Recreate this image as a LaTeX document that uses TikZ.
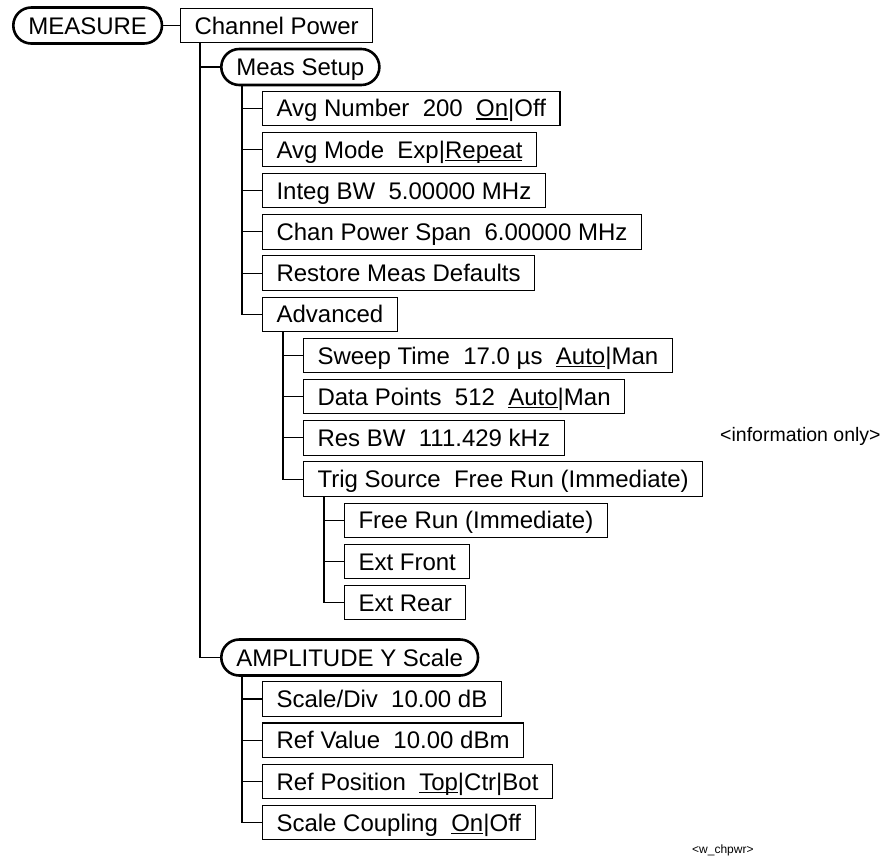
\documentclass[tikz,border=0pt]{standalone}
\usepackage{fontspec}
\setmainfont{Liberation Sans}
\usetikzlibrary{calc}
\newsavebox\ulbox
\newcommand\myul[1]{\sbox\ulbox{#1}\rlap{\rule[-3pt]{\wd\ulbox}{1.5pt}}\usebox\ulbox}
\tikzset{
  box/.style={draw, line width=1.1pt, inner xsep=14pt, inner ysep=0pt,
    minimum height=34.4pt, text height=17.2pt, text depth=0pt, anchor=west},
  rnd/.style={draw, line width=2.6pt, rounded corners=18pt, inner xsep=15pt, inner ysep=0pt,
    minimum height=36pt, text height=17.2pt, text depth=0pt, anchor=west},
  conn/.style={draw, line width=1.1pt}
}
\begin{document}
\begin{tikzpicture}[x=1pt, y=-1pt, font=\fontsize{24}{28}\selectfont]
\useasboundingbox (0,0) rectangle (888,863);
\node[rnd] (measure) at (12,25.5) {MEASURE};
\node[box] (cp) at (180,25.5) {Channel Power};
\node[rnd] (ms) at (220,67) {Meas Setup};
\node[box] (an) at (262,108.3) {Avg Number~ 200~ \myul{On}|Off};
\node[box] (am) at (262,149.5) {Avg Mode~ Exp|\myul{Repeat}};
\node[box] (ib) at (262,190.7) {Integ BW~ 5.00000 MHz};
\node[box] (cps) at (262,231.9) {Chan Power Span~ 6.00000 MHz};
\node[box] (rmd) at (262,273.1) {Restore Meas Defaults};
\node[box] (adv) at (262,314.3) {Advanced};
\node[box] (st) at (303,355.5) {Sweep Time~ 17.0 µs~ \myul{Auto}|Man};
\node[box] (dp) at (303,396.7) {Data Points~ 512~ \myul{Auto}|Man};
\node[box] (rbw) at (303,437.9) {Res BW~ 111.429 kHz};
\node[box] (ts) at (303,479.1) {Trig Source~ Free Run (Immediate)};
\node[box] (fr) at (344,520.3) {Free Run (Immediate)};
\node[box] (ef) at (344,561.5) {Ext Front};
\node[box] (er) at (344,602.7) {Ext Rear};
\node[rnd] (amp) at (220,657.5) {AMPLITUDE Y Scale};
\node[box] (sd) at (262,699) {Scale/Div~ 10.00 dB};
\node[box] (rv) at (262,740.2) {Ref Value~ 10.00 dBm};
\node[box] (rp) at (262,781.4) {Ref Position~ \myul{Top}|Ctr|Bot};
\node[box] (sc) at (262,822.6) {Scale Coupling~ \myul{On}|Off};
\node[font=\fontsize{19.5}{22}\selectfont, anchor=west, inner sep=0pt] (info) at (720,436) {<information only>};
\node[font=\fontsize{12}{14}\selectfont, anchor=west, inner sep=0pt] (tag) at (692,850) {<w\_chpwr>};
% connectors
\draw[conn] (measure.east) -- (cp.west);
\foreach \c in {ms,amp} \draw[conn] ($(cp.south west)+(20,0)$) |- (\c.west);
\foreach \c in {an,am,ib,cps,rmd,adv} \draw[conn] ($(ms.south west)+(22,0)$) |- (\c.west);
\foreach \c in {st,dp,rbw,ts} \draw[conn] ($(adv.south west)+(21,0)$) |- (\c.west);
\foreach \c in {fr,ef,er} \draw[conn] ($(ts.south west)+(21,0)$) |- (\c.west);
\foreach \c in {sd,rv,rp,sc} \draw[conn] ($(amp.south west)+(22,0)$) |- (\c.west);
\end{tikzpicture}
\end{document}
